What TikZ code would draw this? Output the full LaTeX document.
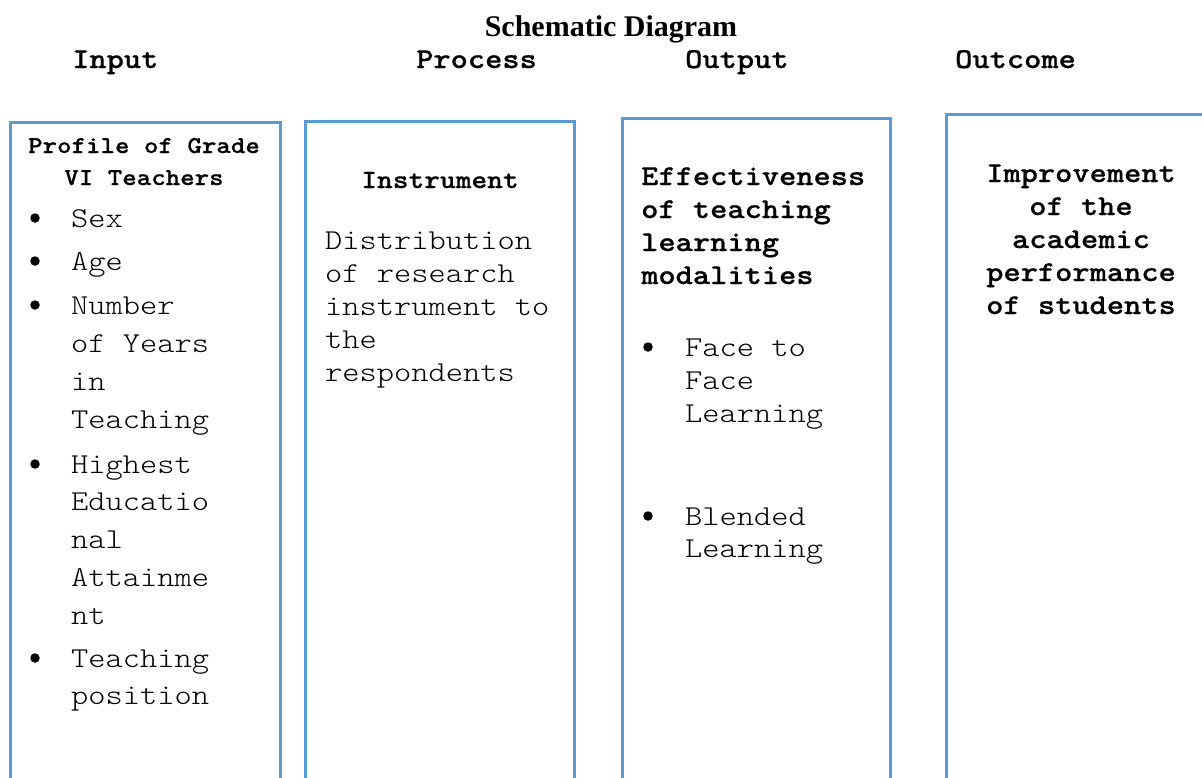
\documentclass[tikz,border=0pt]{standalone}
\usepackage{fontspec}
\setmainfont{Liberation Serif}
% light serif typewriter face, widened to Courier-like advance widths
\setmonofont{lmmonolt10-regular.otf}[BoldFont=lmmonolt10-bold.otf, BoldFeatures={FakeBold=0.6}, FakeStretch=1.14]
\definecolor{boxblue}{RGB}{91,155,213}
\tikzset{
  colbox/.style={draw=boxblue, line width=3pt, anchor=north west, minimum height=720, inner sep=0, outer sep=0},
  headtxt/.style={font=\ttfamily\bfseries\fontsize{28.8}{33}\selectfont, anchor=base west, inner sep=0},
  boldtxt/.style={font=\ttfamily\bfseries\fontsize{28.8}{33}\selectfont, inner sep=0},
  plaintxt/.style={font=\ttfamily\fontsize{28.8}{33}\selectfont, anchor=base west, inner sep=0},
  smallbold/.style={font=\ttfamily\bfseries\fontsize{24.2}{30}\selectfont, anchor=base, inner sep=0},
  dot/.style={circle, fill=black, inner sep=0, minimum size=9.5}
}
\begin{document}
\begin{tikzpicture}[x=1pt,y=-1pt]
\useasboundingbox (0,0) rectangle (1202,777);
\clip (0,0) rectangle (1202,777);

% title and column headings
\node[font=\rmfamily\bfseries\fontsize{30}{34}\selectfont, anchor=base, inner sep=0] (title) at (611,36) {Schematic Diagram};
\node[headtxt] (hin)  at (72,68)  {Input};
\node[headtxt] (hpro) at (416,68) {Process};
\node[headtxt] (hout) at (685,68) {Output};
\node[headtxt] (hoc)  at (955,68) {Outcome};

% the four columns
\node[colbox, minimum width=270] (inbox)  at (10,122)  {};
\node[colbox, minimum width=269] (probox) at (305,121) {};
\node[colbox, minimum width=268] (outbox) at (622,118) {};
\node[colbox, minimum width=269] (ocbox)  at (946,114) {};

% Input column
\node[smallbold] (int1) at (144,153) {Profile of Grade};
\node[smallbold] (int2) at (144,185) {VI Teachers};
\foreach \n/\y/\t in {a/227/Sex, b/270/Age, c/314/Number, d/352/of Years, e/390/in,
  f/428/Teaching, g/473/Highest, h/510/Educatio, i/548/nal, j/586/Attainme, k/624/nt,
  l/667/Teaching, m/704/position}
  \node[plaintxt] (in\n) at (71,\y) {\t};
\foreach \n/\y in {a/227, b/270, c/314, g/473, l/667}
  \node[dot] (bin\n) at (35,\y-9) {};

% Process column
\node[font=\ttfamily\bfseries\fontsize{26.3}{30}\selectfont, anchor=base, inner sep=0] (prot) at (440,188) {Instrument};
\foreach \n/\y/\t in {a/249/Distribution, b/282/of research, c/315/instrument to, d/348/the, e/381/respondents}
  \node[plaintxt] (pro\n) at (325,\y) {\t};

% Output column
\foreach \n/\y/\t in {a/185/Effectiveness, b/218/of teaching, c/251/learning, d/284/modalities}
  \node[boldtxt, anchor=base west] (outt\n) at (641,\y) {\t};
\foreach \n/\y/\t in {a/356/Face to, b/389/Face, c/422/Learning, d/525/Blended, e/557/Learning}
  \node[plaintxt] (out\n) at (685,\y) {\t};
\foreach \n/\y in {a/356, d/525}
  \node[dot] (bout\n) at (648,\y-9) {};

% Outcome column
\foreach \n/\y/\t in {a/182/Improvement, b/215/of the, c/248/academic, d/281/performance, e/314/of students}
  \node[boldtxt, anchor=base] (oc\n) at (1081,\y) {\t};
\end{tikzpicture}
\end{document}
